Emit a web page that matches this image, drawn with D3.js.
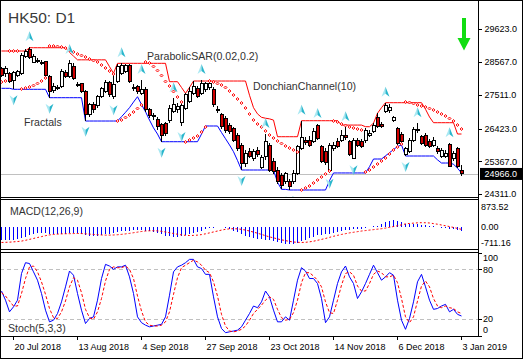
<!DOCTYPE html>
<html>
<head>
<meta charset="utf-8">
<script src="https://cdn.jsdelivr.net/npm/d3@7"></script>
<style>
  body { margin: 0; background: #fff; }
  svg { display: block; font-family: "Liberation Sans", Arial, sans-serif; }
</style>
</head>
<body>
<div id="chart"></div>
<script>
// daily bars, HK50
const opens = [28366,28184,28205,27990,28151,28205,28742,28978,28559,28581,
  28559,28581,28119,27647,27722,27776,28227,28098,28441,27830,
  27862,27636,26864,27218,27154,27454,27615,27905,27475,27937,
  28205,28259,28473,27754,27776,27561,27690,27025,26853,26724,
  26574,26596,26703,26971,27046,26617,27079,27293,27561,27722,
  27561,27669,27754,27690,27046,26864,26757,26510,26435,26188,
  25898,25308,25684,25469,25716,25179,25523,25898,25362,25093,
  24932,24718,24718,24718,24986,25791,26027,26059,26005,26510,
  25845,25684,25093,25791,26005,26059,26188,26005,25469,26027,
  26005,26038,26220,26327,26789,26574,26971,27003,26703,26435,
  26252,25577,25684,26059,26360,26166,26220,26005,25898,25791,
  25523,25523,25920,25469,25791,25093];
const highs = [28420,28441,28259,28291,28312,28849,28978,29042,28827,28688,
  28634,28613,28151,27883,27830,28334,28312,28634,28527,27937,
  27905,27669,27261,27293,27508,27776,27990,27969,28160,28495,
  28527,28495,28495,27862,27830,27990,27754,27079,26918,26789,
  26617,26649,27186,27400,27239,27239,27561,27754,27958,27797,
  27990,27937,27937,27754,27154,26918,26832,26596,26488,26274,
  25952,25737,25791,25759,25845,25577,26252,25973,25469,25179,
  25008,25040,24793,25093,25898,26681,26166,26188,26435,26574,
  25898,25791,25952,26005,26113,26381,26467,26059,26113,26113,
  26081,26435,26381,26596,26918,26649,27261,27218,26832,26488,
  26327,25845,26113,26488,26596,26220,26274,26081,26145,25866,
  25791,25737,25952,25716,25823,25254];
const lows = [28098,28098,27883,27690,28098,28151,28688,28656,28527,28527,
  28473,28098,27422,27561,27669,27722,28044,28044,27990,27754,
  27561,26681,26789,26939,27079,27400,27561,27454,27368,27883,
  28151,28205,27883,27647,27540,27497,26971,26757,26703,26381,
  26005,26188,26617,26918,26918,26510,27025,27239,27508,27400,
  27508,27615,27669,27111,26918,26424,26295,26252,26005,25716,
  25093,25201,25469,25394,25523,25115,25415,25040,24965,24643,
  24470,24643,24450,24643,24932,25737,25898,25845,25952,26059,
  25308,25254,25008,25716,25791,26005,26059,25544,25437,25845,
  25791,25973,26166,26274,26435,26435,26918,26939,26649,25898,
  25898,25544,25630,26005,26274,25898,25845,25791,25845,25609,
  25469,25469,25201,25394,25147,24900];
const closes = [28151,28366,27937,28227,28259,28795,28903,28720,28763,28613,
  28538,28151,27615,27797,27744,28259,28098,28527,28044,27808,
  27615,26864,27186,27025,27454,27722,27905,27508,27851,28441,
  28473,28473,27937,27711,27615,27690,27025,26832,26810,26488,
  26220,26274,27079,27218,27132,27154,27508,27615,27797,27454,
  27862,27883,27862,27186,27003,26488,26381,26327,26059,25791,
  25308,25609,25544,25673,25577,25501,26005,25093,25040,24718,
  24610,24986,24557,24986,25845,26145,25984,25898,26327,26113,
  25362,25330,25898,25898,25845,26220,26145,25577,26038,25898,
  25845,26381,26274,26542,26488,26488,27154,27111,26789,25952,
  26005,25791,26059,26402,26402,25952,25898,25845,26059,25684,
  25716,25630,25222,25630,25201,24966];

// DonchianChannel(10)
const donUpper = [28924,28924,28924,28924,28924,28924,28924,29030,29030,29030,
  29030,29030,29030,29030,29030,29030,29030,28880,28760,28640,
  28640,28640,28640,28640,28640,28640,28640,28420,28206,28528,
  28528,28528,28528,28528,28528,28528,28528,28528,28528,28528,
  28528,28528,27936,27936,27936,27750,27562,27750,27958,27958,
  27958,27958,27958,27958,27958,27958,27958,27958,27958,27958,
  27958,27958,27500,27100,26900,26790,26760,26740,26700,26165,
  26165,26165,26165,26165,26165,26680,26680,26680,26680,26680,
  26680,26680,26680,26680,26680,26540,26540,26540,26540,26540,
  26540,26487,26487,26600,26920,27100,27260,27260,27260,27260,
  27260,27260,27260,27260,27260,27260,27050,26800,26616,26616,
  26616,26616,26616,26616,26252,26252];
const donLower = [27723,27723,27723,27691,27691,27691,27691,27691,27691,27691,
  27691,27691,27421,27421,27421,27421,27421,27421,27421,27421,
  27421,26670,26670,26670,26670,26670,26670,26670,26670,26670,
  26809,26950,27100,27280,27453,27200,26970,26700,26450,26250,
  26004,26004,26004,26004,26004,26004,26004,26004,26004,26004,
  26250,26510,26510,26510,26510,26300,26100,25900,25682,25400,
  25093,25093,25093,25093,25093,25093,25093,25093,25093,24700,
  24470,24470,24449,24449,24449,24449,24449,24449,24449,24449,
  24449,24449,24750,24998,24998,24998,24998,24998,24998,24998,
  24998,24998,25200,25447,25447,25447,25550,25650,25750,25850,
  25900,25544,25544,25544,25544,25544,25544,25544,25544,25420,
  25318,25318,25318,25280,25150,24997];

// ParabolicSAR(0.02,0.2)
const sar = [27926,27958,28924,28924,28924,27701,27733,27765,27813,27878,
  27958,28055,29085,29085,29069,29053,29020,28956,28892,28827,
  28779,28731,28666,28618,28570,28473,28377,28280,28183,26671,
  26703,26783,26864,26960,27073,27186,28570,28538,28425,28296,
  28135,27942,27797,27620,27443,27282,25995,26059,26123,26188,
  26316,26477,27958,27926,27878,27829,27749,27636,27507,27379,
  27250,27089,26896,26703,26574,26477,26349,26220,26123,26027,
  25946,25866,25801,25737,25673,24449,24514,24578,24675,24771,
  24868,24964,25061,26671,26638,26574,26526,26477,26445,26413,
  26381,25029,25093,25190,25286,25383,25480,25608,25737,25834,
  25930,27282,27266,27234,27186,27153,27121,27073,27025,26960,
  26896,26831,26751,26671,26542,26413];

// Fractals (bar index)
const fractalUp = [7, 17, 30, 35, 43, 50, 66, 75, 79, 86, 96, 104, 112];
const fractalDown = [3, 12, 21, 28, 40, 45, 60, 72, 82, 88, 101];

// MACD(12,26,9)
const macd = [-412,-412,-412,-410,-400,-370,-320,-270,-230,-200,
  -180,-180,-210,-230,-240,-225,-210,-185,-180,-195,
  -215,-260,-280,-290,-285,-265,-240,-225,-200,-170,
  -140,-120,-115,-110,-110,-105,-120,-140,-165,-200,
  -240,-280,-300,-310,-310,-300,-270,-230,-190,-160,
  -120,-80,-40,-20,-10,-15,-40,-80,-120,-170,
  -230,-280,-320,-350,-380,-400,-410,-430,-460,-490,
  -520,-540,-550,-540,-510,-460,-410,-370,-320,-270,
  -250,-240,-220,-190,-160,-130,-100,-90,-75,-60,
  -50,-35,-10,20,45,100,150,210,220,190,
  150,110,90,85,90,80,60,40,20,0,
  -20,-40,-60,-75,-95,-140];
const macdSignal = [-500,-495,-490,-480,-470,-455,-430,-400,-370,-340,
  -310,-280,-255,-240,-230,-222,-218,-215,-212,-210,
  -212,-220,-230,-240,-250,-258,-262,-262,-258,-250,
  -238,-222,-205,-185,-165,-145,-130,-122,-120,-125,
  -140,-160,-185,-210,-235,-255,-270,-275,-272,-262,
  -245,-220,-190,-160,-130,-100,-75,-60,-55,-60,
  -75,-100,-130,-165,-200,-240,-280,-320,-350,-385,
  -415,-440,-465,-485,-495,-500,-495,-480,-460,-430,
  -400,-370,-335,-300,-270,-240,-215,-190,-170,-150,
  -130,-115,-100,-85,-70,-55,-35,-10,15,40,
  70,100,115,125,135,140,138,130,110,90,
  65,40,15,-15,-45,-75];

// Stoch(5,3,3)
const stochK = [54,43,29,35,43,75,88,87,77,67,
  51,31,17,19,27,41,59,78,73,51,
  31,15,21,23,43,69,86,84,80,83,
  83,85,71,51,23,16,13,11,12,13,
  14,23,49,77,83,85,88,92,92,83,
  81,74,74,47,23,9,4,5,6,7,
  11,19,27,36,34,41,54,47,31,17,
  17,23,19,43,67,82,78,69,69,63,
  45,16,23,43,63,77,84,71,63,45,
  53,63,74,85,76,67,71,76,73,43,
  19,8,21,41,65,74,59,43,32,33,
  36,38,29,32,26,24];
const stochD = [52,48,42,36,36,51,69,83,84,77,
  65,50,33,22,21,29,42,59,70,67,
  52,32,22,20,29,45,66,80,83,82,
  82,84,80,69,48,30,17,13,12,12,
  13,17,29,50,70,82,85,88,91,89,
  85,79,76,65,48,26,12,6,5,6,
  8,12,19,27,32,37,43,47,44,32,
  22,19,20,28,43,64,76,76,72,67,
  59,41,28,27,43,61,75,77,73,60,
  54,54,63,74,78,76,71,71,73,64,
  45,23,16,23,42,60,66,59,45,36,
  34,36,34,33,29,27];

// axis
const priceTicks = [29623, 28567, 27511, 26423, 25367, 24311];
const lastPrice = 24966;
const dateTickBars = [3, 19, 35, 51, 67, 83, 99, 115];
const dateTickLabels = ['20 Jul 2018', '13 Aug 2018', '4 Sep 2018', '27 Sep 2018',
  '23 Oct 2018', '14 Nov 2018', '6 Dec 2018', '3 Jan 2019'];

const W = 524, H = 360, plotRight = 478;
const n = closes.length;
const idx = d3.range(n);

const svg = d3.select('#chart')
  .append('svg')
  .attr('width', W)
  .attr('height', H);

const x = d3.scaleLinear().domain([0, n - 1]).range([1, 461]);
const yMain = d3.scaleLinear().domain([24311, 29623]).range([194.3, 29.3]);
const yMacd = d3.scaleLinear().domain([-711.16, 873.52]).range([249, 200]);
const yStoch = d3.scaleLinear().domain([0, 100]).range([336, 252.7]);

const defs = svg.append('defs');
function clip(id, y0, y1) {
  defs.append('clipPath').attr('id', id)
    .append('rect').attr('x', 0).attr('y', y0).attr('width', plotRight).attr('height', y1 - y0);
  return svg.append('g').attr('clip-path', `url(#${id})`);
}

// ---------- main panel ----------
const gMain = clip('clipMain', 0, 197);

gMain.append('line')
  .attr('x1', 0).attr('x2', plotRight)
  .attr('y1', Math.round(yMain(lastPrice)) + 0.5).attr('y2', Math.round(yMain(lastPrice)) + 0.5)
  .attr('stroke', '#c0c0c0');

const lineMain = d3.line().x(i => x(i) + 0.5);
gMain.append('path')
  .attr('d', lineMain.y(i => yMain(donUpper[i]))(idx))
  .attr('fill', 'none').attr('stroke', '#ff0000');
gMain.append('path')
  .attr('d', lineMain.y(i => yMain(donLower[i]))(idx))
  .attr('fill', 'none').attr('stroke', '#0000ff');

const candles = gMain.append('g').attr('shape-rendering', 'crispEdges');
candles.selectAll('line')
  .data(idx)
  .enter().append('line')
    .attr('x1', i => x(i) + 0.5).attr('x2', i => x(i) + 0.5)
    .attr('y1', i => yMain(highs[i])).attr('y2', i => yMain(lows[i]))
    .attr('stroke', '#000');
candles.selectAll('rect')
  .data(idx)
  .enter().append('rect')
    .attr('x', i => x(i) - 1)
    .attr('width', 3)
    .attr('y', i => yMain(Math.max(opens[i], closes[i])))
    .attr('height', i => Math.max(1, Math.abs(yMain(opens[i]) - yMain(closes[i]))))
    .attr('fill', i => closes[i] < opens[i] ? '#d00000' : '#fff')
    .attr('stroke', '#000');

gMain.selectAll('.sar')
  .data(idx)
  .enter().append('path')
    .attr('class', 'sar')
    .attr('transform', i => `translate(${x(i) + 0.5},${yMain(sar[i])})`)
    .attr('d', 'M0,-1.5L1.5,0L0,1.5L-1.5,0Z')
    .attr('fill', '#ffd0d0')
    .attr('stroke', '#ff0000')
    .attr('stroke-width', 0.9);

function arrow(g, dir) {
  // tip at 0, base at 10*dir
  g.append('path').attr('d', `M0,0L-4,${10 * dir}L0,${7 * dir}Z`).attr('fill', '#a8e8f2');
  g.append('path').attr('d', `M0,0L4,${10 * dir}L0,${7 * dir}Z`).attr('fill', '#29b6cc');
}
gMain.selectAll('.fup')
  .data(fractalUp)
  .enter().append('g')
    .attr('class', 'fup')
    .attr('transform', i => `translate(${x(i) + 0.5},${yMain(highs[i]) - 16})`)
    .each(function() { arrow(d3.select(this), 1); });
gMain.selectAll('.fdn')
  .data(fractalDown)
  .enter().append('g')
    .attr('class', 'fdn')
    .attr('transform', i => `translate(${x(i) + 0.5},${yMain(lows[i]) + 16})`)
    .each(function() { arrow(d3.select(this), -1); });

svg.append('text').attr('x', 8).attr('y', 22.5)
  .attr('font-size', 15.5).attr('fill', '#3a3a3a').text('HK50: D1');
const labels = [
  ['ParabolicSAR(0.02,0.2)', 147, 60],
  ['DonchianChannel(10)', 253, 90],
  ['Fractals', 24, 125.5]
];
svg.selectAll('.ind')
  .data(labels)
  .enter().append('text')
    .attr('class', 'ind')
    .attr('x', d => d[1]).attr('y', d => d[2])
    .attr('font-size', 10.6).attr('fill', '#333')
    .text(d => d[0]);

// green signal arrow
svg.append('path')
  .attr('d', 'M462,18H466V38H470.5L464,50.5L457.5,38H462Z')
  .attr('fill', '#11dd11');

// ---------- MACD ----------
const gMacd = clip('clipMacd', 200, 249);
gMacd.append('g').attr('shape-rendering', 'crispEdges')
  .selectAll('line')
  .data(idx)
  .enter().append('line')
    .attr('x1', i => x(i) + 0.5).attr('x2', i => x(i) + 0.5)
    .attr('y1', yMacd(0)).attr('y2', i => yMacd(macd[i]))
    .attr('stroke', '#0000ff');
gMacd.append('path')
  .attr('d', d3.line().x(i => x(i) + 0.5).y(i => yMacd(macdSignal[i]))(idx))
  .attr('fill', 'none').attr('stroke', '#ff0000').attr('stroke-dasharray', '2,2');
svg.append('text').attr('x', 10).attr('y', 215)
  .attr('font-size', 10.5).attr('fill', '#333').text('MACD(12,26,9)');

// ---------- Stochastic ----------
const gSto = clip('clipSto', 253, 336);
[80, 20].forEach(v => {
  gSto.append('line')
    .attr('x1', 0).attr('x2', plotRight)
    .attr('y1', Math.round(yStoch(v)) + 0.5).attr('y2', Math.round(yStoch(v)) + 0.5)
    .attr('stroke', '#c0c0c0').attr('stroke-dasharray', '4,3');
});
gSto.append('path')
  .attr('d', d3.line().x(i => x(i) + 0.5).y(i => yStoch(stochK[i]))(idx))
  .attr('fill', 'none').attr('stroke', '#0000ff');
gSto.append('path')
  .attr('d', d3.line().x(i => x(i) + 0.5).y(i => yStoch(stochD[i]))(idx))
  .attr('fill', 'none').attr('stroke', '#ff0000').attr('stroke-dasharray', '3,2');
svg.append('text').attr('x', 8).attr('y', 332)
  .attr('font-size', 10.6).attr('fill', '#333').text('Stoch(5,3,3)');

// ---------- frames ----------
const frame = svg.append('g').attr('stroke', '#000').attr('shape-rendering', 'crispEdges');
frame.append('rect').attr('x', 0.5).attr('y', 0.5).attr('width', 522).attr('height', 358).attr('fill', 'none');
[197.5, 199.5, 249.5, 252.5, 336.5].forEach(yy => {
  frame.append('line').attr('x1', 0).attr('x2', plotRight + 1).attr('y1', yy).attr('y2', yy);
});
frame.append('line').attr('x1', plotRight + 0.5).attr('x2', plotRight + 0.5).attr('y1', 0).attr('y2', 337);

// ---------- right axis ----------
const axisTxt = svg.append('g').attr('font-size', 9).attr('fill', '#000');
priceTicks.forEach(v => {
  const yy = Math.round(yMain(v)) + 0.5;
  frame.append('line').attr('x1', plotRight).attr('x2', plotRight + 4).attr('y1', yy).attr('y2', yy);
  axisTxt.append('text').attr('x', 484.5).attr('y', yMain(v)).attr('dy', '0.35em').text(v.toFixed(1));
});
svg.append('rect').attr('x', 480).attr('y', yMain(lastPrice) - 6).attr('width', 42).attr('height', 12).attr('fill', '#000');
svg.append('text').attr('x', 484.5).attr('y', yMain(lastPrice)).attr('dy', '0.35em')
  .attr('font-size', 9).attr('fill', '#fff').text(lastPrice.toFixed(1));

const macdLabels = [[873.52, 7], [0, 0], [-711.16, -6]];
macdLabels.forEach(([v, off]) => {
  axisTxt.append('text').attr('x', 481).attr('y', yMacd(v) + off).attr('dy', '0.35em').text(v.toFixed(2));
});
const stochLabels = [[100, 5.5], [80, 0], [20, 0], [0, -6.5]];
stochLabels.forEach(([v, off]) => {
  frame.append('line').attr('x1', plotRight).attr('x2', plotRight + 4)
    .attr('y1', Math.round(yStoch(v)) + 0.5).attr('y2', Math.round(yStoch(v)) + 0.5);
  axisTxt.append('text').attr('x', 483).attr('y', yStoch(v) + off).attr('dy', '0.35em').text(v);
});

// ---------- date axis ----------
dateTickBars.forEach((b, k) => {
  const xx = x(b) + 0.5;
  frame.append('line').attr('x1', xx).attr('x2', xx).attr('y1', 336).attr('y2', 340);
  axisTxt.append('text').attr('x', xx + 1).attr('y', 349.5).text(dateTickLabels[k]);
});
</script>
</body>
</html>
